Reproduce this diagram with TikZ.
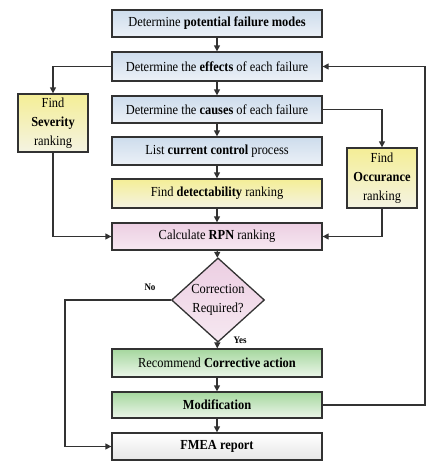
\documentclass[tikz,border=0pt]{standalone}
\usepackage{fontspec}
\setmainfont[FakeStretch=0.9]{Liberation Serif}
\usetikzlibrary{shapes.geometric,arrows.meta}
\definecolor{blueT}{RGB}{205,220,236}
\definecolor{blueB}{RGB}{236,241,247}
\definecolor{yelT}{RGB}{244,238,150}
\definecolor{yelB}{RGB}{244,243,226}
\definecolor{pinkT}{RGB}{236,206,226}
\definecolor{pinkB}{RGB}{246,232,241}
\definecolor{grnT}{RGB}{165,215,158}
\definecolor{grnB}{RGB}{236,246,234}
\definecolor{gryB}{RGB}{230,230,230}
\definecolor{edge}{RGB}{50,50,50}
\begin{document}
\begin{tikzpicture}[x=1pt,y=-1pt,
  every node/.style={font=\fontsize{13.8}{15}\selectfont},
  mainbox/.style={draw=edge, line width=1.3pt, minimum width=210pt, minimum height=27pt, inner sep=0pt},
  bluebox/.style={mainbox, top color=blueT, bottom color=blueB},
  yelbox/.style={mainbox, top color=yelT, bottom color=yelB},
  pinkbox/.style={mainbox, top color=pinkT, bottom color=pinkB},
  grnbox/.style={mainbox, top color=grnT, bottom color=grnB},
  whtbox/.style={mainbox, top color=white, bottom color=gryB},
  sidebox/.style={draw=edge, line width=1.3pt, minimum width=70pt, inner sep=0pt, align=center, top color=yelT, bottom color=yelB, font=\fontsize{13.8}{19}\selectfont},
  arr/.style={draw=edge, line width=1.3pt, -{Triangle[length=6pt,width=6pt]}},
  lbl/.style={font=\fontsize{10}{11}\selectfont\bfseries}
]
\useasboundingbox (0,0) rectangle (428,461);
\node[bluebox] (b1) at (217,23.5) {Determine \textbf{potential failure modes}};
\node[bluebox, minimum height=29pt] (b2) at (217,66.5) {Determine the \textbf{effects} of each failure};
\node[bluebox] (b3) at (217,109.5) {Determine the \textbf{causes} of each failure};
\node[bluebox, minimum height=28pt] (b4) at (217,151) {List \textbf{current control} process};
\node[yelbox, minimum height=29pt] (b5) at (217,193.5) {Find \textbf{detectability} ranking};
\node[pinkbox] (b6) at (217,236.5) {Calculate \textbf{RPN} ranking};
\node[diamond, draw=edge, line width=1.3pt, top color=pinkT, bottom color=pinkB, minimum width=93pt, minimum height=57pt, inner sep=0pt, align=center, font=\fontsize{13.8}{19}\selectfont] (d) at (218,300) {Correction\\Required?};
\node[grnbox, minimum height=28pt] (b7) at (217,363) {Recommend \textbf{Corrective action}};
\node[grnbox, minimum height=26pt] (b8) at (217,405) {\textbf{Modification}};
\node[whtbox] (b9) at (217,446.5) {\textbf{FMEA report}};
\node[sidebox, minimum height=58pt] (sev) at (53,123) {Find\\\textbf{Severity}\\ranking};
\node[sidebox, minimum height=60pt] (occ) at (382,178) {Find\\\textbf{Occurance}\\ranking};
\node[lbl] (no) at (150,287) {No};
\node[lbl] (yes) at (240,340) {Yes};
\coordinate (nl) at (65,446.5);
\coordinate (mr) at (425,405);
\draw[arr] (b1) -- (b2);
\draw[arr] (b2) -- (b3);
\draw[arr] (b3) -- (b4);
\draw[arr] (b4) -- (b5);
\draw[arr] (b5) -- (b6);
\draw[arr] (b6) -- (d);
\draw[arr] (d) -- (b7);
\draw[arr] (b7) -- (b8);
\draw[arr] (b8) -- (b9);
\draw[arr] (b2.west) -| (sev.north);
\draw[arr] (sev.south) |- (b6.west);
\draw[arr] (b3.east) -| (occ.north);
\draw[arr] (occ.south) |- (b6.east);
\draw[arr] (d.west) -| (nl) -- (b9.west);
\draw[arr] (b8.east) -- (mr) |- (b2.east);
\end{tikzpicture}
\end{document}
